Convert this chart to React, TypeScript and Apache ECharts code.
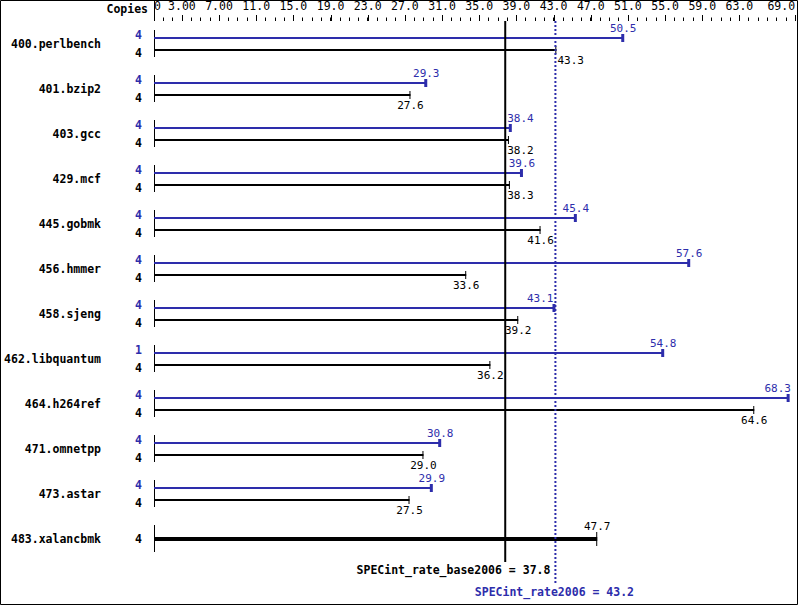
import React, { useEffect, useRef } from 'react';
import * as echarts from 'echarts';

const benchmarks = ['400.perlbench', '401.bzip2', '403.gcc', '429.mcf', '445.gobmk', '456.hmmer', '458.sjeng', '462.libquantum', '464.h264ref', '471.omnetpp', '473.astar', '483.xalancbmk'];
const baseValues = [43.3, 27.6, 38.2, 38.3, 41.6, 33.6, 39.2, 36.2, 64.6, 29.0, 27.5, 47.7];
const peakValues: (number | null)[] = [50.5, 29.3, 38.4, 39.6, 45.4, 57.6, 43.1, 54.8, 68.3, 30.8, 29.9, null];
const baseCopies = [4, 4, 4, 4, 4, 4, 4, 4, 4, 4, 4, 4];
const peakCopies: (number | null)[] = [4, 4, 4, 4, 4, 4, 4, 1, 4, 4, 4, null];
const baseScore = 37.8;
const peakScore = 43.2;
const tickValues = [0, 3, 7, 11, 15, 19, 23, 27, 31, 35, 39, 43, 47, 51, 55, 59, 63, 69];
const tickLabels = ['0', '3.00', '7.00', '11.0', '15.0', '19.0', '23.0', '27.0', '31.0', '35.0', '39.0', '43.0', '47.0', '51.0', '55.0', '59.0', '63.0', '69.0'];
const axisMax = 69.2;

const BLUE = '#2d2dab';
const BLACK = '#000';
const FONT = "'DejaVu Sans Mono', monospace";
const FS = 11.5;
const VFS = 11;
const RIGHT_EDGE = 797;

function txt(x: number, y: number, text: string, fill: string, align: string, bold = false, size = FS) {
  return {
    type: 'text',
    x, y,
    style: { text, fill, fontFamily: FONT, fontSize: size, fontWeight: bold ? 'bold' : 'normal', align, verticalAlign: 'middle' },
  };
}

function line(x1: number, y1: number, x2: number, y2: number, stroke: string, lineWidth: number, lineDash?: number[]) {
  const style: any = { stroke, lineWidth };
  if (lineDash) style.lineDash = lineDash;
  return { type: 'line', shape: { x1, y1, x2, y2 }, style };
}

export default function App() {
  const ref = useRef<HTMLDivElement>(null);
  useEffect(() => {
    if (!ref.current) return;
    const chart = echarts.init(ref.current, null, { renderer: 'svg' });

    let refXs: number[] = [];
    const placeLabel = (endX: number) => {
      const hw = 12;
      for (const L of refXs) {
        if (Math.abs(endX - L) < hw) {
          return endX >= L ? { x: L + 2, align: 'left' } : { x: L - 2, align: 'right' };
        }
      }
      if (endX + hw > RIGHT_EDGE) return { x: RIGHT_EDGE - 6, align: 'right' };
      return { x: endX, align: 'center' };
    };

    const option: any = {
      animation: false,
      grid: { left: 154, right: 2, top: 21, height: 540, containLabel: false },
      xAxis: {
        type: 'value', position: 'top', min: 0, max: axisMax, interval: 1,
        axisLine: { show: true, onZero: false, lineStyle: { color: 'rgba(0,0,0,0)', width: 1 } },
        splitLine: { show: false },
        axisTick: { show: true, length: 3.5, lineStyle: { color: BLACK, width: 1 } },
        axisLabel: {
          show: true, customValues: tickValues, margin: 9,
          color: BLACK, fontFamily: FONT, fontSize: FS,
          alignMinLabel: 'left', alignMaxLabel: 'right',
          formatter: (v: number) => {
            const k = tickValues.indexOf(Math.round(v));
            return k >= 0 ? tickLabels[k] : '';
          },
        },
      },
      yAxis: { type: 'value', min: -0.5, max: 11.5, inverse: true, show: false },
      graphic: [
        { type: 'rect', shape: { x: 0.5, y: 0.5, width: 797, height: 604 }, style: { fill: 'none', stroke: BLACK, lineWidth: 1 } },
        { type: 'line', shape: { x1: 154.5, y1: 0, x2: 154.5, y2: 21 }, style: { stroke: BLACK, lineWidth: 1 } },
        { type: 'text', x: 148, y: 9, style: { text: 'Copies', fill: BLACK, fontFamily: FONT, fontSize: FS, fontWeight: 'bold', align: 'right', verticalAlign: 'middle' } },
      ],
      series: [
        {
          type: 'custom',
          clip: false,
          data: [[0, 0]],
          renderItem: (params: any, api: any) => {
            const yTop = api.coord([0, -0.5])[1];
            const children: any[] = [];
            tickValues.forEach((v) => {
              const x = Math.round(api.coord([v, 0])[0]) + 0.5;
              children.push({ type: 'line', shape: { x1: x, y1: yTop - 6, x2: x, y2: yTop }, style: { stroke: '#000000', lineWidth: 1 } });
            });
            return { type: 'group', children };
          },
        },
        {
          type: 'custom',
          z: 2,
          clip: false,
          data: baseValues.map((v, i) => [v, i]),
          encode: { x: 0, y: 1 },
          renderItem: (params: any, api: any) => {
            const i = params.dataIndex;
            const [x0, cy] = api.coord([0, i]);
            refXs = [api.coord([baseScore, 0])[0], api.coord([peakScore, 0])[0]];
            const base = baseValues[i];
            const peak = peakValues[i];
            const xb = api.coord([base, i])[0];
            const children: any[] = [];
            children.push(txt(101, cy, benchmarks[i], BLACK, 'right', true));
            children.push(line(x0 + 0.5, cy - 13.5, x0 + 0.5, cy + 13.5, BLACK, 1));
            if (peak != null) {
              const xp = api.coord([peak, i])[0];
              const yp = Math.round(cy - 5.5);
              const yb = Math.round(cy + 6.5);
              children.push(line(x0, yp, xp, yp, BLUE, 2));
              children.push({ type: 'rect', shape: { x: xp - 2, y: yp - 4, width: 3, height: 8 }, style: { fill: BLUE } });
              const lp = placeLabel(xp);
              children.push(txt(lp.x, cy - 15.5, peak.toFixed(1), BLUE, lp.align, false, VFS));
              children.push(txt(138.5, cy - 8.5, String(peakCopies[i]), BLUE, 'center', true));
              children.push(line(x0, yb, xb, yb, BLACK, 2));
              children.push(line(xb - 0.5, yb - 4, xb - 0.5, yb + 4, BLACK, 1));
              const lb = placeLabel(xb);
              children.push(txt(lb.x, cy + 17, base.toFixed(1), BLACK, lb.align, false, VFS));
              children.push(txt(138.5, cy + 9.5, String(baseCopies[i]), BLACK, 'center', true));
            } else {
              const yb = Math.round(cy);
              children.push(line(x0, yb, xb, yb, BLACK, 4));
              children.push(line(xb - 0.5, yb - 7, xb - 0.5, yb + 7, BLACK, 1));
              const lb = placeLabel(xb);
              children.push(txt(lb.x, cy - 12, base.toFixed(1), BLACK, lb.align, false, VFS));
              children.push(txt(138.5, cy, String(baseCopies[i]), BLACK, 'center', true));
            }
            return { type: 'group', children };
          },
        },
        {
          type: 'custom',
          z: 5,
          clip: false,
          data: [[baseScore, 0], [peakScore, 1]],
          encode: { x: 0, y: 1 },
          renderItem: (params: any, api: any) => {
            const k = params.dataIndex;
            const xBase = api.coord([baseScore, 0])[0];
            const xPeak = api.coord([peakScore, 0])[0];
            const yTop = api.coord([0, -0.5])[1];
            const yBottom = api.coord([0, 11.5])[1];
            if (k === 0) {
              const label = 'SPECint_rate_base2006 = ' + baseScore.toFixed(1);
              const halfW = label.length * FS * 0.602 / 2;
              const overlaps = xBase + halfW > xPeak - 3;
              return {
                type: 'group',
                children: [
                  line(xBase, yTop, xBase, yBottom + 1, BLACK, 2),
                  txt(overlaps ? xPeak - 5 : xBase, yBottom + 9, label, BLACK, overlaps ? 'right' : 'center', true),
                ],
              };
            }
            const label = 'SPECint_rate2006 = ' + peakScore.toFixed(1);
            return {
              type: 'group',
              children: [
                line(xPeak, yTop, xPeak, yBottom + 22, BLUE, 2, [2, 2]),
                txt(xPeak - 1, yBottom + 30.5, label, BLUE, 'center', true),
              ],
            };
          },
        },
      ],
    };
    chart.setOption(option);
    return () => chart.dispose();
  }, []);
  return <div ref={ref} style={{ position: 'fixed', left: 0, top: 0, width: 799, height: 606, background: '#fff' }} />;
}
